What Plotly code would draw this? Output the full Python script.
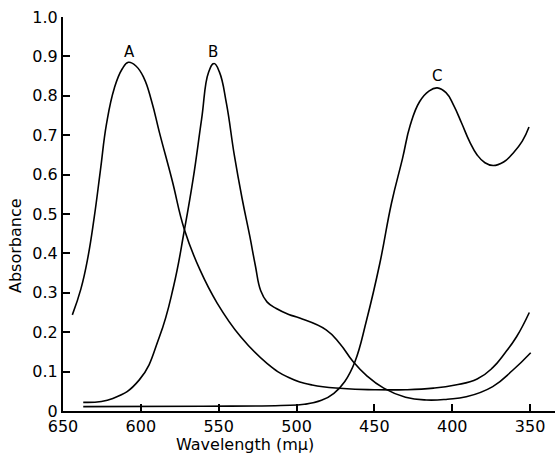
import plotly.graph_objects as go

# Curve A
wl_a = [644, 638.5, 634, 630, 626, 622, 617, 612, 608, 603, 598, 593, 588, 580, 572, 562,
        551, 536, 519, 505, 490, 470, 450, 430, 412, 398, 384, 374, 366, 358.6, 350.5]
abs_a = [0.244, 0.31, 0.39, 0.49, 0.61, 0.73, 0.82, 0.868, 0.885, 0.875, 0.845, 0.785, 0.706, 0.587, 0.46, 0.358,
         0.274, 0.189, 0.121, 0.085, 0.066, 0.057, 0.054, 0.054, 0.058, 0.066, 0.081, 0.11, 0.148, 0.189, 0.25]

# Curve B
wl_b = [637, 618, 601, 588, 579, 572, 566.5, 561, 556.5, 553, 549.5, 545, 540, 535,
        530, 526.5, 523, 519, 513, 505, 498, 481, 472, 463.6, 455, 444, 430, 416.5, 403, 391, 374, 361, 349.6]
abs_b = [0.022, 0.032, 0.079, 0.189, 0.316, 0.46, 0.587, 0.74, 0.86, 0.882, 0.86, 0.78, 0.65, 0.54,
         0.443, 0.37, 0.305, 0.277, 0.26, 0.245, 0.236, 0.206, 0.17, 0.125, 0.09, 0.058, 0.035, 0.028, 0.03,
         0.036, 0.062, 0.104, 0.148]

# Curve C
wl_c = [637, 560, 510, 495, 484, 476, 469, 462.5, 455, 446.5, 439, 432, 427, 421, 415, 409.6,
        404, 399, 394, 389, 384, 379, 373.7, 367, 360.8, 355, 350.7]
abs_c = [0.011, 0.012, 0.014, 0.017, 0.027, 0.045, 0.075, 0.125, 0.231, 0.375, 0.528, 0.64, 0.725, 0.785, 0.812,
         0.82, 0.808, 0.775, 0.731, 0.685, 0.65, 0.63, 0.623, 0.632, 0.655, 0.685, 0.721]

curve_names = ["A", "B", "C"]
label_wl = [607, 553.6, 410]
label_abs = [0.911, 0.911, 0.851]

x_ticks = [650, 600, 550, 500, 450, 400, 350]
y_ticks = [0, 0.1, 0.2, 0.3, 0.4, 0.5, 0.6, 0.7, 0.8, 0.9, 1.0]
y_ticktext = ["0", "0.1", "0.2", "0.3", "0.4", "0.5", "0.6", "0.7", "0.8", "0.9", "1.0"]

FONT = "DejaVu Sans"

fig = go.Figure()
for wl, ab, nm in zip([wl_a, wl_b, wl_c], [abs_a, abs_b, abs_c], curve_names):
    fig.add_trace(go.Scatter(x=wl, y=ab, mode="lines", name=nm,
                             line=dict(color="black", width=1.6, shape="spline", smoothing=1.3),
                             showlegend=False))

for nm, lx, ly in zip(curve_names, label_wl, label_abs):
    fig.add_annotation(x=lx, y=ly, text=nm, showarrow=False,
                       font=dict(family=FONT, size=15, color="black"))

fig.add_annotation(xref="paper", yref="paper", x=(245 - 63) / 492, y=(411 - 445) / 394,
                   xanchor="center", yanchor="middle",
                   text="Wavelength (mμ)", showarrow=False,
                   font=dict(family=FONT, size=16, color="black"))
fig.add_annotation(xref="paper", yref="paper", x=(15 - 63) / 492, y=(411 - 246) / 394,
                   xanchor="center", yanchor="middle",
                   text="Absorbance", textangle=-90, showarrow=False,
                   font=dict(family=FONT, size=16, color="black"))

fig.update_xaxes(range=[650, 334], tickvals=x_ticks, ticks="inside", ticklen=7, tickwidth=1.5,
                 tickcolor="black", showline=True, linecolor="black", linewidth=2,
                 showgrid=False, zeroline=False,
                 tickfont=dict(family=FONT, size=16, color="black"))
fig.update_yaxes(range=[0, 1.0], tickvals=y_ticks, ticktext=y_ticktext, ticks="inside", ticklen=7,
                 tickwidth=1.5, tickcolor="black", showline=True, linecolor="black", linewidth=2,
                 showgrid=False, zeroline=False,
                 tickfont=dict(family=FONT, size=16, color="black"))

fig.update_layout(width=555, height=456, margin=dict(l=63, r=0, t=17, b=45),
                  plot_bgcolor="white", paper_bgcolor="white")

fig.write_html("out.html")
